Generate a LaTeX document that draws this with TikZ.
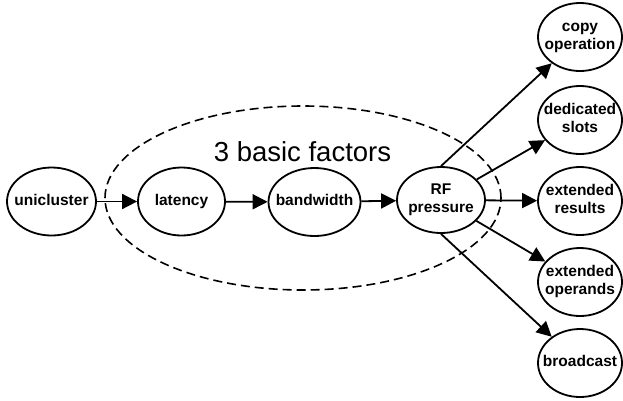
\documentclass[tikz,border=0pt]{standalone}
\usepackage{fontspec}
\setmainfont{Liberation Sans}
\usetikzlibrary{shapes.geometric,arrows.meta}
\newcommand{\lblx}[1]{\makebox[0pt]{\begin{tabular}{@{}c@{}}#1\end{tabular}}}
\tikzset{
  elli/.style={ellipse, draw, line width=1.8pt, inner sep=0pt,
    minimum width=89pt, minimum height=68pt,
    font=\fontsize{15.5}{18.5}\selectfont\bfseries},
  rcol/.style={elli, minimum width=84pt},
  conn/.style={line width=1.8pt, -{Triangle[length=15pt,width=15pt]}},
  grp/.style={line width=1.6pt, dash pattern=on 9pt off 5pt}
}
\begin{document}
\begin{tikzpicture}[x=1pt,y=-1pt]
\useasboundingbox (0,0) rectangle (623,400);
\draw[grp] (303,198) ellipse [x radius=198pt, y radius=92pt];
\node[font=\fontsize{27.5}{30}\selectfont, anchor=base] (title) at (302.5,161) {3 basic factors};
\node[elli] (uni) at (51.5,201.5) {\lblx{unicluster}};
\node[elli, minimum width=87pt] (lat) at (181.5,201.5) {\lblx{latency}};
\node[elli, minimum width=92pt] (bw) at (314.5,202) {\lblx{bandwidth}};
\node[elli, minimum width=88pt, minimum height=66pt] (rf) at (441,200) {\lblx{RF\\pressure}};
\node[rcol] (copy) at (580,37) {\lblx{copy\\operation}};
\node[rcol] (ded) at (580,120) {\lblx{dedicated\\slots}};
\node[rcol] (res) at (580,201) {\lblx{extended\\results}};
\node[rcol] (opd) at (580,282) {\lblx{extended\\operands}};
\node[rcol] (bc) at (580,363) {\lblx{broadcast}};
\draw[conn] (uni) -- (lat);
\draw[conn] (lat) -- (bw);
\draw[conn] (bw) -- (rf);
\draw[conn] (rf.north) -- (copy);
\draw[conn] (rf) -- (ded);
\draw[conn] (rf) -- (res);
\draw[conn] (rf) -- (opd);
\draw[conn] (rf.south) -- (bc);
\end{tikzpicture}
\end{document}
